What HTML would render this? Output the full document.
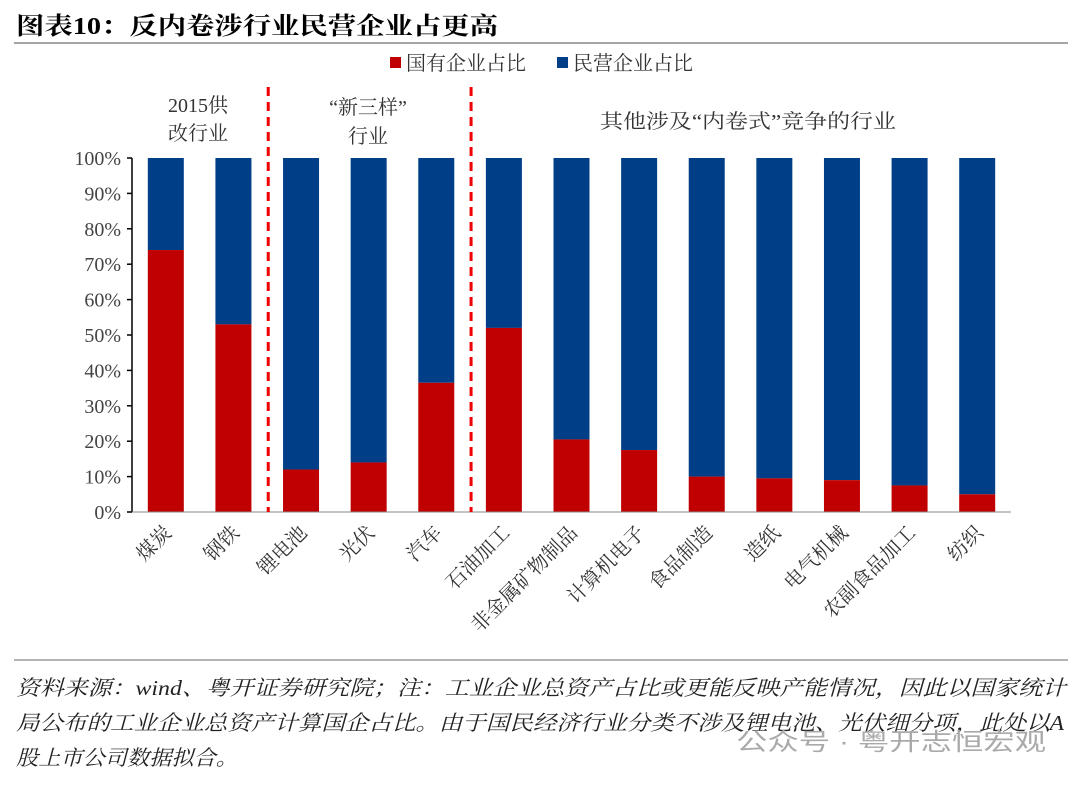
<!DOCTYPE html>
<html><head><meta charset="utf-8"><style>
body{margin:0;width:1080px;height:785px;background:#fff;overflow:hidden;font-family:"Liberation Serif","Noto Serif CJK SC",serif}
</style></head><body>
<svg width="1080" height="785" xmlns="http://www.w3.org/2000/svg" id="chart">
<text x="16" y="34" font-size="24" font-weight="bold" fill="#000" textLength="482" lengthAdjust="spacingAndGlyphs" font-family="'Liberation Serif','Noto Serif CJK SC',serif">图表10：反内卷涉行业民营企业占更高</text>
<line x1="14" y1="43" x2="1068" y2="43" stroke="#888" stroke-width="1.5"/>
<g font-size="20" fill="#333">
<rect x="390" y="57" width="11" height="11" fill="#C00000"/>
<text x="406" y="70">国有企业占比</text>
<rect x="557" y="57" width="11" height="11" fill="#003F87"/>
<text x="573" y="70">民营企业占比</text>
</g>
<g font-size="20" fill="#333" text-anchor="middle">
<text x="198" y="112">2015供</text>
<text x="198" y="140">改行业</text>
<text x="368" y="114">“新三样”</text>
<text x="368" y="143">行业</text>
<text x="748" y="128" textLength="296" lengthAdjust="spacingAndGlyphs">其他涉及“内卷式”竞争的行业</text>
</g>
<g id="plot"></g>
<line x1="14" y1="660" x2="1068" y2="660" stroke="#888" stroke-width="1.2"/>
<g font-size="21" font-style="italic" fill="#222">
<text x="16" y="695" textLength="1050" lengthAdjust="spacingAndGlyphs">资料来源：wind、粤开证券研究院；注：工业企业总资产占比或更能反映产能情况，因此以国家统计</text>
<text x="16" y="730" textLength="1048" lengthAdjust="spacingAndGlyphs">局公布的工业企业总资产计算国企占比。由于国民经济行业分类不涉及锂电池、光伏细分项，此处以A</text>
<text x="16" y="765" textLength="222" lengthAdjust="spacingAndGlyphs">股上市公司数据拟合。</text>
</g>
<text x="736" y="750" font-size="24" fill="#aaa" textLength="310" lengthAdjust="spacingAndGlyphs" font-family="'Liberation Sans','Noto Sans CJK SC',sans-serif">公众号 · 粤开志恒宏观</text>
</svg>
<script>
const categories=["煤炭","钢铁","锂电池","光伏","汽车","石油加工","非金属矿物制品","计算机电子","食品制造","造纸","电气机械","农副食品加工","纺织"];
const stateShare=[74,53,12,14,36.5,52,20.5,17.5,10,9.5,9,7.5,5];
const tickLabels=["0%","10%","20%","30%","40%","50%","60%","70%","80%","90%","100%"];
const tickValues=[0,10,20,30,40,50,60,70,80,90,100];
const dividerAfter=[1,4];
const NS="http://www.w3.org/2000/svg";
const g=document.getElementById("plot");
const L=132,R=1011,T=158,B=512;
const band=(R-L)/categories.length;
const x=i=>L+band*i+band/2;
const y=v=>B-(B-T)*v/100;
const bw=36;
function mk(t,a){const e=document.createElementNS(NS,t);for(const k in a)e.setAttribute(k,a[k]);g.appendChild(e);return e;}
categories.forEach((c,i)=>{
  const v=stateShare[i];
  const p=mk("rect",{x:x(i)-bw/2,y:T,width:bw,height:y(v)-T,fill:"#003F87"});
  
  
  const s=mk("rect",{x:x(i)-bw/2,y:y(v),width:bw,height:B-y(v),fill:"#C00000"});
  
  
  const t=mk("text",{x:0,y:0,"font-size":20,fill:"#333","text-anchor":"end",transform:`translate(${x(i)+7},${B+22}) rotate(-45)`});
  t.textContent=c;
  
  
});
const ax=mk("line",{x1:L,y1:T,x2:L,y2:B,stroke:"#000","stroke-width":1.5});


const bx=mk("line",{x1:L,y1:B,x2:R,y2:B,stroke:"#888","stroke-width":1});


tickValues.forEach((v,i)=>{
  const tk=mk("line",{x1:L-5,y1:y(v),x2:L,y2:y(v),stroke:"#000","stroke-width":1.5});
  
  
  const t=mk("text",{x:L-11,y:y(v)+7,"font-size":20,fill:"#444","text-anchor":"end"});
  t.textContent=tickLabels[i];
  
  
});
dividerAfter.forEach(i=>{
  const xx=L+band*(i+1)+1;
  const d=mk("line",{x1:xx,y1:87,x2:xx,y2:B,stroke:"#F00000","stroke-width":3,"stroke-dasharray":"9,6"});
  
  
});
</script>
</body></html>
